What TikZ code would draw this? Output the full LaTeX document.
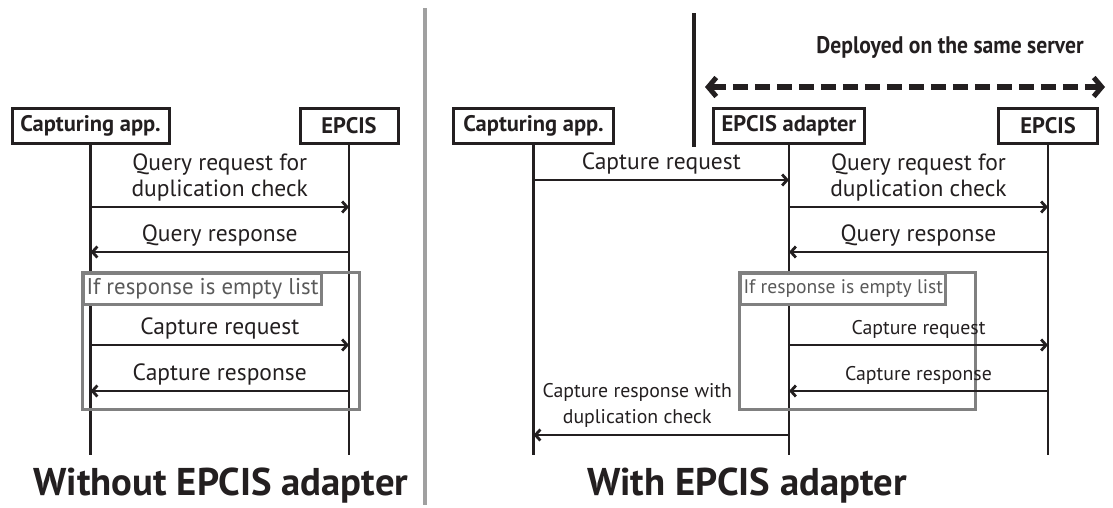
\documentclass[tikz,border=0pt]{standalone}
\usepackage{fontspec}
\setmainfont{PT Sans}
\newfontfamily\condfont{PT Sans}[FakeStretch=0.9]
\usetikzlibrary{arrows.meta}
\definecolor{ink}{HTML}{231F20}
\definecolor{grpgray}{HTML}{808080}
\definecolor{grptext}{HTML}{5A5A5A}
\definecolor{divgray}{HTML}{A0A0A0}
\begin{document}
\begin{tikzpicture}[x=1pt,y=-1pt,
  actor/.style={draw=ink,text=ink,line width=3pt,font=\bfseries\fontsize{22.5}{24}\selectfont,inner sep=2pt,minimum height=35pt},
  life/.style={draw=ink,line width=2.8pt},
  msg/.style={draw=ink,line width=2.8pt,-{Straight Barb[length=5pt,width=11pt]}},
  lbl/.style={text=ink,font=\fontsize{23.5}{26.5}\selectfont,align=center,inner sep=0pt},
  slbl/.style={text=ink,font=\fontsize{19.8}{26.5}\selectfont,align=center,inner sep=0pt},
  grp/.style={draw=grpgray,line width=3pt},
  grplbl/.style={draw=grpgray,line width=3pt,fill=white,text=grptext,inner xsep=3pt,inner ysep=0pt,minimum height=31pt,anchor=north west},
  title/.style={text=ink,font=\bfseries\fontsize{38.7}{42}\selectfont,inner sep=0pt,anchor=base},
  sub/.style={text=ink,font=\condfont\bfseries\fontsize{24}{26}\selectfont,inner sep=0pt,anchor=base}]
\useasboundingbox (0,0) rectangle (1113,507);
% divider
\draw[divgray,line width=3.5pt] (425,8) -- (425,505);
% ---------- left ----------
\node[actor,minimum width=157pt] (capL) at (90.5,125.5) {Capturing app.};
\node[actor,minimum width=98pt] (epL) at (349,125.5) {EPCIS};
\coordinate (capLend) at (capL.south |- 0,455);
\coordinate (epLend) at (epL.south |- 0,455);
\draw[life] (capL.south) -- (capLend);
\draw[life] (epL.south) -- (epLend);
\coordinate (l1a) at (capL.south |- 0,207); \coordinate (l1b) at (epL.south |- 0,207);
\coordinate (l2a) at (capL.south |- 0,252); \coordinate (l2b) at (epL.south |- 0,252);
\coordinate (l3a) at (capL.south |- 0,345); \coordinate (l3b) at (epL.south |- 0,345);
\coordinate (l4a) at (capL.south |- 0,391); \coordinate (l4b) at (epL.south |- 0,391);
\draw[msg] (l1a) -- (l1b) node[lbl,midway,above=4pt] {Query request for\\duplication check};
\draw[msg] (l2b) -- (l2a) node[lbl,midway,above=4pt] {Query response};
\draw[grp] (82,272) rectangle (359,409);
\node[grplbl,font=\fontsize{22.8}{24}\selectfont] (gL) at (82,272) {If response is empty list};
\draw[msg] (l3a) -- (l3b) node[lbl,midway,above=4pt] {Capture request};
\draw[msg] (l4b) -- (l4a) node[lbl,midway,above=4pt] {Capture response};
\node[title] (tL) at (221,495) {Without EPCIS adapter};
% ---------- right ----------
\draw[ink,line width=4.5pt] (694,13) -- (694,147);
\node[sub] (dep) at (950,53) {Deployed on the same server};
\coordinate (dA) at (705,87); \coordinate (dB) at (1105,87);
\draw[ink,line width=6pt,dash pattern=on 15pt off 7pt,{Straight Barb[length=8pt,width=19pt,line width=5pt]}-{Straight Barb[length=8pt,width=19pt,line width=5pt]}] (dA) -- (dB);
\node[actor,minimum width=160pt] (capR) at (533.5,125.5) {Capturing app.};
\node[actor,minimum width=151pt] (adR) at (789,125.5) {EPCIS adapter};
\node[actor,minimum width=99pt] (epR) at (1048,125.5) {EPCIS};
\coordinate (capRend) at (capR.south |- 0,455);
\coordinate (adRend) at (adR.south |- 0,455);
\coordinate (epRend) at (epR.south |- 0,455);
\draw[life] (capR.south) -- (capRend);
\draw[life] (adR.south) -- (adRend);
\draw[life] (epR.south) -- (epRend);
\coordinate (r0a) at (capR.south |- 0,180); \coordinate (r0b) at (adR.south |- 0,180);
\coordinate (r1a) at (adR.south |- 0,207); \coordinate (r1b) at (epR.south |- 0,207);
\coordinate (r2a) at (adR.south |- 0,252); \coordinate (r2b) at (epR.south |- 0,252);
\coordinate (r3a) at (adR.south |- 0,345); \coordinate (r3b) at (epR.south |- 0,345);
\coordinate (r4a) at (adR.south |- 0,391); \coordinate (r4b) at (epR.south |- 0,391);
\coordinate (r5a) at (capR.south |- 0,435); \coordinate (r5b) at (adR.south |- 0,435);
\draw[msg] (r0a) -- (r0b) node[lbl,midway,above=4pt] {Capture request};
\draw[msg] (r1a) -- (r1b) node[lbl,midway,above=4pt] {Query request for\\duplication check};
\draw[msg] (r2b) -- (r2a) node[lbl,midway,above=4pt] {Query response};
\draw[grp] (739,272) rectangle (975,409);
\node[grplbl,font=\fontsize{19.6}{22}\selectfont] (gR) at (739,272) {If response is empty list};
\draw[msg] (r3a) -- (r3b) node[slbl,midway,above=5pt] {Capture request};
\draw[msg] (r4b) -- (r4a) node[slbl,midway,above=5pt] {Capture response};
\draw[msg] (r5b) -- (r5a) node[slbl,pos=0.594,above=6pt] {Capture response with\\duplication check};
\node[title] (tR) at (747,495) {With EPCIS adapter};
\end{tikzpicture}
\end{document}
